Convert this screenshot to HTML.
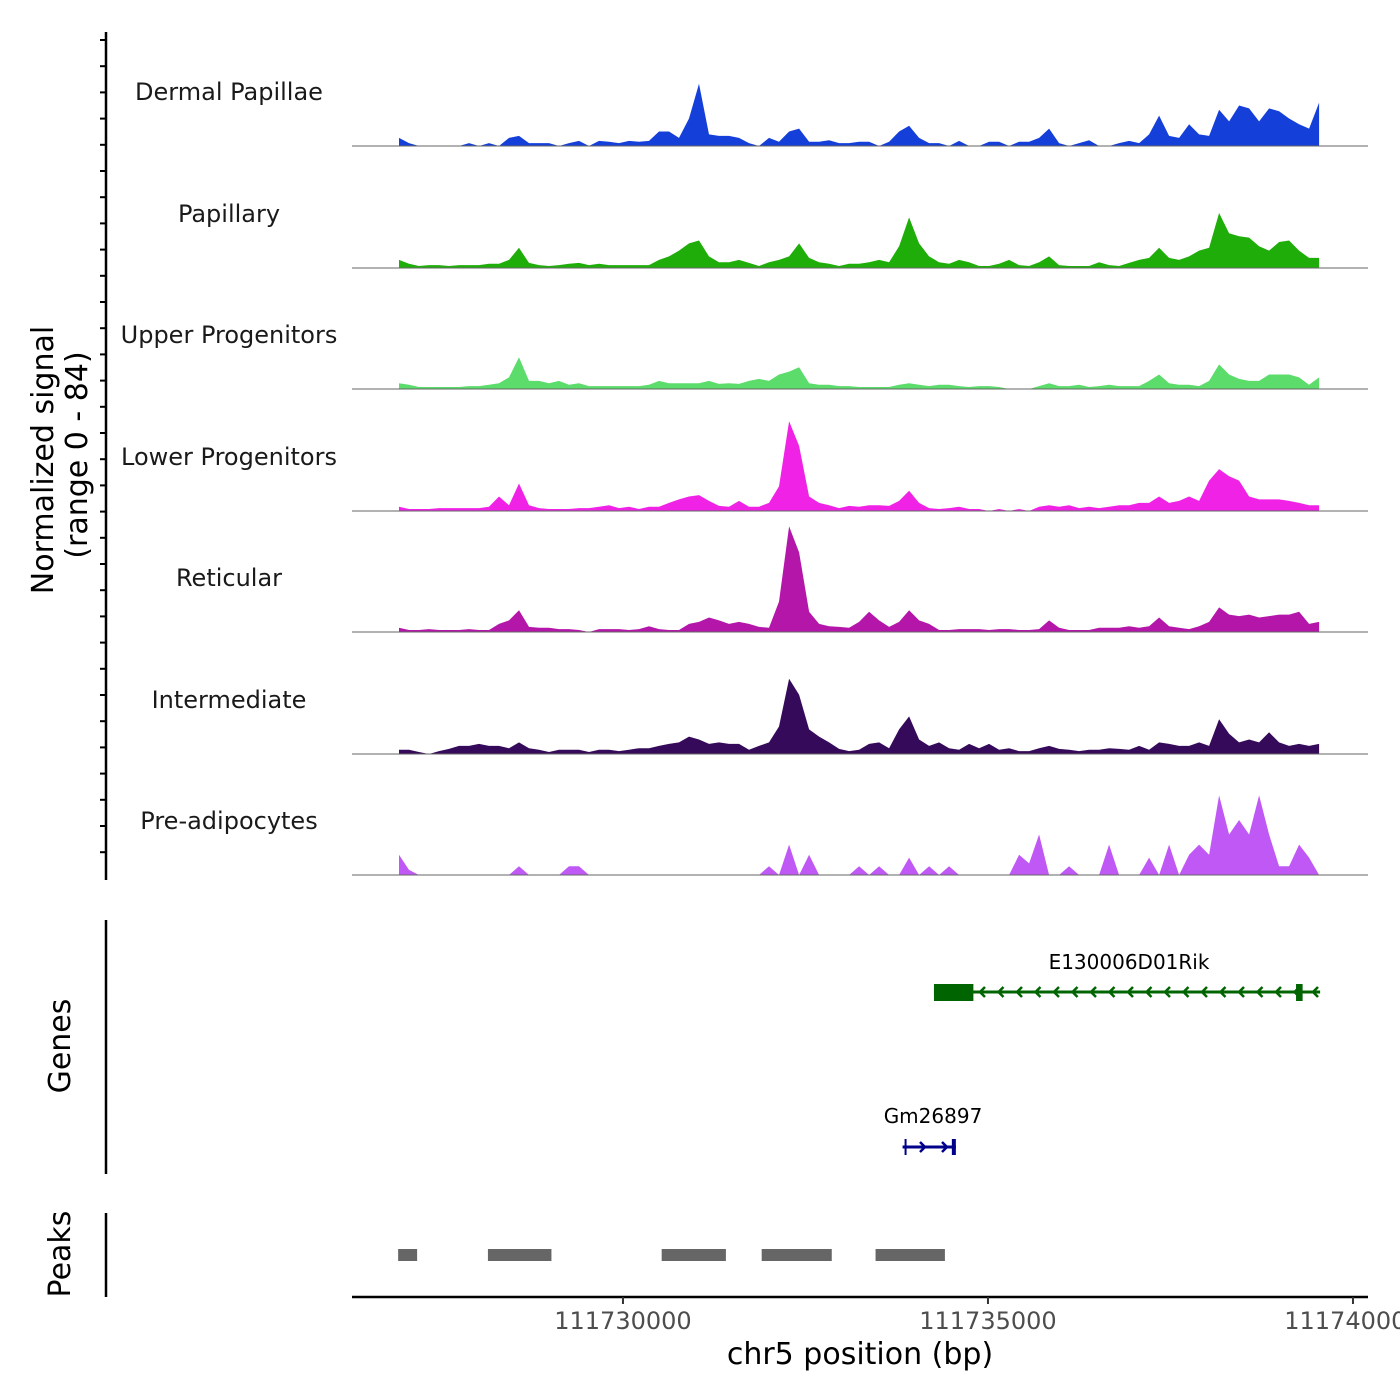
<!DOCTYPE html>
<html><head><meta charset="utf-8"><style>
html,body{margin:0;padding:0;background:#fff;}
svg{display:block;font-family:"DejaVu Sans","Liberation Sans",sans-serif;}
</style></head><body>
<svg id="chart" width="1400" height="1400" viewBox="0 0 1400 1400">
<g id="tracks"></g>
<g id="axes"></g>
<g id="genes"></g>
<g id="peaks"></g>
</svg>
<script>
// ---- data ----
const binStart = 111726932;
const binStep = 137;
const trackNames = ["Dermal Papillae","Papillary","Upper Progenitors","Lower Progenitors","Reticular","Intermediate","Pre-adipocytes"];
const trackColors = ["#1440d9","#1fad0a","#5bdc6b","#ef22e6","#b316a8","#360a5a","#c058f5"];
const dermalPapillae = [5.6,2,0,0,0,0,0,2,0,2,0,5.6,7,2,2,2,0,2,3.5,0,3.5,3,2,3.5,3,3.5,10,10,5.6,19,43,8,7,7,5.6,2,0,5.6,3,10,12,3,3,4,2,2,3,3,0,3,10,14,5.6,2,2,0,3.5,0,0,3,3,0,3,3,5.6,12,2,0,2,4,0,0,2,3.5,2,8,21,7,5.6,15,8,7,25,17,28,26,17,26,24,19,15,12,30];
const papillary = [5.6,3,1.4,2,2,1.4,2,2,2,3,3,5.6,14,3.5,2,1.4,2,3,3.5,2,3,2,2,2,2,2,5.6,8,12,17,19,8,4,4,5.6,3.5,1.4,4,5.6,8,17,7,4,3,1.4,3,3,4,5.6,4,15,35,17,8,4,3,5.6,4,1.4,1.4,3,5.6,2,1.4,4,8,2,1.4,1.4,1.4,4,2,1.4,3.5,5.6,7,14,7,5.6,8,12,14,38,24,22,21,15,12,18,19,12,7,7];
const upperProgenitors = [4,3,1.4,1.4,1.4,1.4,1.4,2,2,3,4,8,22,5.6,5.6,4,5.6,3,4,2,2,2,2,2,2,3,5.6,4,4,4,4,5.6,3.5,4,3.5,5.6,7,5.6,10,12,15,4,3,3,2,2,1.4,1.4,1.4,1.4,3,4,3,2,3,3,2,1.4,2,2,1.4,0,0,0,2,4,2,2,3,1.4,2,3,2,2,2,5.6,10,4,3,3,2,5.6,17,10,7,5.6,5.6,10,10,10,8,3,8];
const lowerProgenitors = [3,1.4,1.4,1.4,2,2,2,2,2,3,10,4,19,4,2,1.4,1.4,1.4,2,2,3,4,2,3,1.4,3,3,5.6,8,10,11,7,3.5,3,7,3,3,5.6,17,62,45,10,5.6,4,2,3.5,3,4,4,3.5,7,14,5.6,2,1.4,2,3,1.4,1.4,0,1.4,0,1.4,0,3,4,3,4,2,3,2,3,4,4,5.6,5.6,10,5.6,7,10,7,21,29,24,21,10,8,8,8,7,5.6,4,4];
const reticular = [3,1.4,1.4,2,1.4,1.4,1.4,2,1.4,1.4,5.6,8,15,3.5,3,3,2,2,1.4,0,2,2,2,1.4,2,4,2,1.4,1.4,5.6,7,10,8,5.6,7,5.6,3.5,3,21,73,55,14,5.6,4,3.5,3,7,14,8,3.5,7,15,8,5.6,1.4,1.4,2,2,2,1.4,2,2,1.4,1.4,2,8,3,1.4,1.4,1.4,3,3,3,4,3,4,10,4,3,2,4,7,17,12,11,12,10,11,12,12,14,5.6,7];
const intermediate = [3,3,1.4,0,2,3.5,5.6,5.6,7,5.6,5.6,4,8,4,3,1.4,3,3,3,1.4,3,3,2,3,4,4,5.6,7,8,12,10,7,8,7,7,3,5.6,8,19,52,41,17,12,8,3.5,2,3,7,8,4,17,26,10,5.6,8,4,3,7,4,7,3,4,2,2,4,5.6,3.5,3,2,3,3,4,3.5,3,5.6,3,8,7,5.6,5.6,8,5.6,24,14,8,10,8,15,8,5.6,7,5.6,7];
const preAdipocytes = [14,3.5,0,0,0,0,0,0,0,0,0,0,6,0,0,0,0,6,6,0,0,0,0,0,0,0,0,0,0,0,0,0,0,0,0,0,0,6,0,21,0,14,0,0,0,0,6,0,6,0,0,12,0,6,0,6,0,0,0,0,0,0,14,8,28,0,0,6,0,0,0,21,0,0,0,12,0,21,0,14,21,14,55,28,38,28,55,28,6,6,21,12,0];
const trackData = [dermalPapillae,papillary,upperProgenitors,lowerProgenitors,reticular,intermediate,preAdipocytes];
const xTicks = [111730000,111735000,111740000];
const peakStarts = [111726920,111728150,111730530,111731900,111733460];
const peakEnds = [111727180,111729020,111731410,111732860,111734410];
const gene1Start = 111734260, gene1End = 111739550;
const gene1ExonStarts = [111734260,111739220];
const gene1ExonEnds = [111734800,111739310];
const gene2Start = 111733830, gene2End = 111734560;

// ---- scales ----
const X0 = 352, X1 = 1368;
const bpMin = 111726288, pxPerBp = 0.073;
const xs = bp => X0 + (bp - bpMin) * pxPerBp;
const yMax = 84, trackH = 121.5;
const baselines = [146,268,389,511,632,754,875];
const ys = (v, i) => baselines[i] - v / yMax * trackH;

const NS = "http://www.w3.org/2000/svg";
function mk(tag, attrs, parent) {
  const e = document.createElementNS(NS, tag);
  for (const k in attrs) e.setAttribute(k, attrs[k]);
  parent.appendChild(e);
  return e;
}
const gT = document.getElementById('tracks');
trackData.forEach((arr, i) => {
  let d = "M" + xs(binStart).toFixed(1) + "," + baselines[i];
  arr.forEach((v, j) => {
    d += " L" + xs(binStart + j * binStep).toFixed(1) + "," + ys(v, i).toFixed(1);
  });
  d += " L" + xs(binStart + (arr.length - 1) * binStep).toFixed(1) + "," + baselines[i] + " Z";
  const p = mk('path', {d: d, fill: trackColors[i]}, gT);
  
  
  const bl = mk('line', {x1: X0, x2: X1, y1: baselines[i], y2: baselines[i], stroke: '#666', 'stroke-width': 1}, gT);
  
  
  const t = mk('text', {x: 229, y: baselines[i] - 46, 'text-anchor': 'middle', 'font-size': 24, fill: '#1a1a1a'}, gT);
  t.textContent = trackNames[i];
  
  
});

// ---- axes ----
const gA = document.getElementById('axes');
let a = mk('line', {x1: 106, x2: 106, y1: 32, y2: 880, stroke: '#000', 'stroke-width': 2.5}, gA);


for (let y = 40; y <= 878; y += 26.2) {
  const tk = mk('line', {x1: 100, x2: 106, y1: y, y2: y, stroke: '#000', 'stroke-width': 2}, gA);
  
  
}
let t1 = mk('text', {x: 0, y: 0, 'font-size': 30, 'text-anchor': 'middle', transform: 'translate(53,460) rotate(-90)'}, gA);
t1.textContent = 'Normalized signal';


let t2 = mk('text', {x: 0, y: 0, 'font-size': 30, 'text-anchor': 'middle', transform: 'translate(87,455) rotate(-90)'}, gA);
t2.textContent = '(range 0 - 84)';


let ax = mk('line', {x1: X0, x2: X1, y1: 1297, y2: 1297, stroke: '#000', 'stroke-width': 2.5}, gA);


xTicks.forEach(v => {
  const tk = mk('line', {x1: xs(v), x2: xs(v), y1: 1297, y2: 1304, stroke: '#333', 'stroke-width': 2}, gA);
  
  
  const tl = mk('text', {x: xs(v), y: 1329, 'font-size': 24, 'text-anchor': 'middle', fill: '#4d4d4d'}, gA);
  tl.textContent = String(v);
  
  
});
let xt = mk('text', {x: 860, y: 1364, 'font-size': 30, 'text-anchor': 'middle'}, gA);
xt.textContent = 'chr5 position (bp)';



// ---- genes ----
const gG = document.getElementById('genes');
let ga = mk('line', {x1: 106, x2: 106, y1: 920, y2: 1174, stroke: '#000', 'stroke-width': 2.5}, gG);


let gt = mk('text', {x: 0, y: 0, 'font-size': 30, 'text-anchor': 'middle', transform: 'translate(70,1046) rotate(-90)'}, gG);
gt.textContent = 'Genes';


const G1 = '#006400', G2 = '#00008b';
let g1 = mk('line', {x1: xs(gene1Start), x2: xs(gene1End), y1: 992, y2: 992, stroke: G1, 'stroke-width': 3}, gG);


gene1ExonStarts.forEach((s, k) => {
  const r = mk('rect', {x: xs(s), y: 984, width: xs(gene1ExonEnds[k]) - xs(s), height: 17, fill: G1}, gG);
  
  
});
for (let x = 980; x < 1320; x += 18.5) {
  const ch = mk('path', {d: `M${x+5},987 L${x},992 L${x+5},997`, fill: 'none', stroke: G1, 'stroke-width': 2.5}, gG);
  
  
}
let gl1 = mk('text', {x: 1129, y: 969, 'font-size': 20, 'text-anchor': 'middle'}, gG);
gl1.textContent = 'E130006D01Rik';


let g2 = mk('line', {x1: xs(gene2Start), x2: xs(gene2End), y1: 1147, y2: 1147, stroke: G2, 'stroke-width': 3}, gG);


[[xs(gene2Start)+3,2],[xs(gene2End)-2,4]].forEach(([x,w]) => {
  const r = mk('rect', {x: x - w/2, y: 1139, width: w, height: 16, fill: G2}, gG);
  
  
});
[920, 942].forEach(x => {
  const ch = mk('path', {d: `M${x},1142 L${x+5},1147 L${x},1152`, fill: 'none', stroke: G2, 'stroke-width': 2.5}, gG);
  
  
});
let gl2 = mk('text', {x: 933, y: 1123, 'font-size': 20, 'text-anchor': 'middle'}, gG);
gl2.textContent = 'Gm26897';



// ---- peaks ----
const gP = document.getElementById('peaks');
let pa = mk('line', {x1: 106, x2: 106, y1: 1213, y2: 1297, stroke: '#000', 'stroke-width': 2.5}, gP);


let pt = mk('text', {x: 0, y: 0, 'font-size': 30, 'text-anchor': 'middle', transform: 'translate(70,1254) rotate(-90)'}, gP);
pt.textContent = 'Peaks';


peakStarts.forEach((s, k) => {
  const r = mk('rect', {x: xs(s), y: 1249, width: xs(peakEnds[k]) - xs(s), height: 12, fill: '#666'}, gP);
  
  
});
</script>
</body></html>
